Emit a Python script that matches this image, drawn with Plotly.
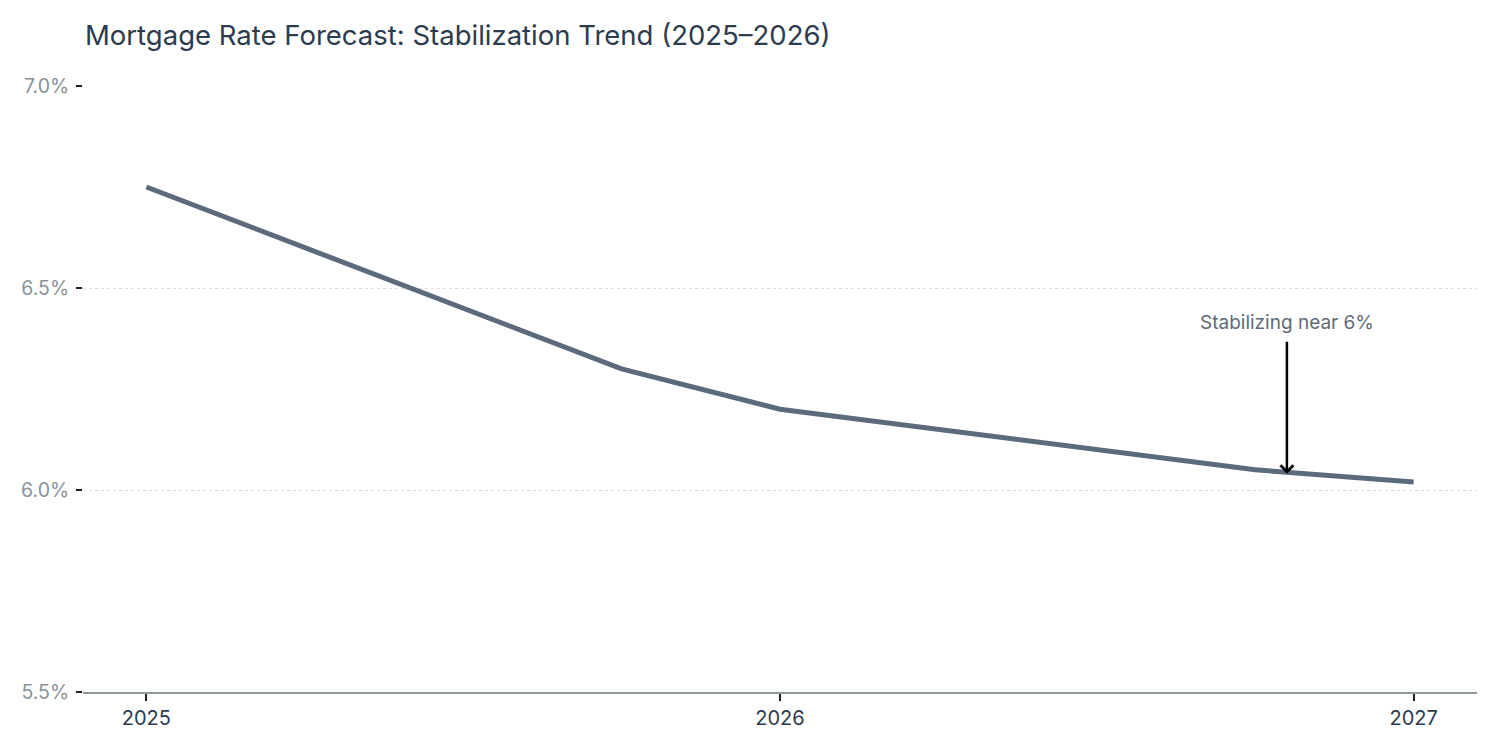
import plotly.graph_objects as go

years = [2025.0, 2025.75, 2026.0, 2026.75, 2027.0]
rates = [6.75, 6.30, 6.20, 6.05, 6.02]
y_ticks = [5.5, 6.0, 6.5, 7.0]
y_tick_labels = ["5.5%", "6.0%", "6.5%", "7.0%"]
x_ticks = [2025, 2026, 2027]
x_tick_labels = ["2025", "2026", "2027"]
note_x = 2026.8
note_y = 6.04
note_text = "Stabilizing near 6%"
title_text = "Mortgage Rate Forecast: Stabilization Trend (2025\u20132026)"

FONT = "Inter, Roboto, sans-serif"

fig = go.Figure()
fig.add_trace(go.Scatter(
    x=years, y=rates, mode="lines",
    line=dict(color="#5c6b7c", width=5),
    hoverinfo="skip", showlegend=False,
))

fig.add_annotation(
    x=note_x, y=note_y, text=note_text,
    showarrow=True, arrowhead=4, arrowsize=1, arrowwidth=2.5, arrowcolor="#000000",
    ax=0, ay=-151, startstandoff=6,
    font=dict(family=FONT, size=19, color="#5f6b7b"),
)

fig.update_layout(
    width=1500, height=750,
    paper_bgcolor="white", plot_bgcolor="white",
    margin=dict(l=75, r=31, t=78, b=66),
    title=dict(text=title_text, x=77/1500, xanchor="left", y=1 - 27/750, yanchor="middle",
               font=dict(family=FONT, size=27.5, color="#2d3b4e")),
    font=dict(family=FONT),
    xaxis=dict(
        range=[2024.9, 2027.1], tickvals=x_ticks, ticktext=x_tick_labels,
        showgrid=False, zeroline=False,
        showline=True, linecolor="#8e9999", linewidth=2,
        ticks="outside", ticklen=7, tickwidth=2, tickcolor="#222222",
        tickfont=dict(family=FONT, size=20, color="#2d3b4e"),
    ),
    yaxis=dict(
        range=[5.5, 7.0], tickvals=y_ticks, ticktext=y_tick_labels,
        showgrid=True, gridcolor="#dddddd", griddash="dot", gridwidth=1,
        zeroline=False, showline=False,
        ticks="outside", ticklen=6, tickwidth=2, tickcolor="#222222",
        ticklabelstandoff=3,
        tickfont=dict(family=FONT, size=19.5, color="#8a9396"),
    ),
)

fig.write_html("out.html")
